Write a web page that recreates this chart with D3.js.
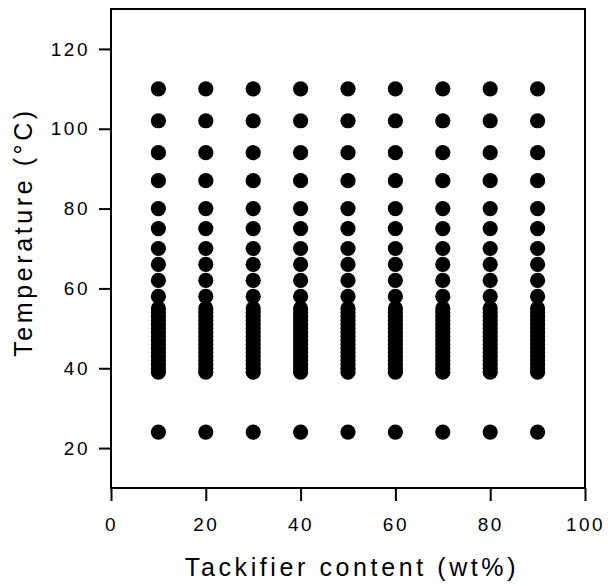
<!DOCTYPE html>
<html lang="en">
<head>
  <meta charset="UTF-8" />
  <title>Tackifier content vs Temperature</title>
  <style>
    body {
      margin: 0;
      background: #fff;
    }
    svg {
      display: block;
      background: #fff;
      font-family: "Liberation Sans", Arial, Helvetica, sans-serif;
    }
    .tick text {
      font-size: 19px;
      letter-spacing: 2.5px;
      fill: #000;
    }
    .tick line {
      stroke: #000;
      stroke-width: 2px;
    }
    .axis-title {
      font-size: 25px;
      letter-spacing: 3.6px;
      fill: #000;
    }
    .dot {
      fill: #000;
    }
  </style>
</head>
<body>
  <svg width="608" height="586"></svg>

  <script src="https://d3js.org/d3.v7.min.js"></script>
  <script>
    // tackifier content columns (wt%)
    const contents = [10, 20, 30, 40, 50, 60, 70, 80, 90];
    // measured temperatures (°C), same for every column
    const temps = [24, 39, 40, 41, 42, 43, 44, 45, 46, 47, 48, 49, 50, 51, 52, 53, 54, 55,
                   58, 62, 66, 70, 75, 80, 87, 94, 102, 110];
    const xTicks = [0, 20, 40, 60, 80, 100];
    const yTicks = [20, 40, 60, 80, 100, 120];

    const svg = d3.select("svg");
    const plotLeft = 111, plotRight = 585, plotTop = 9, plotBottom = 488;

    const x = d3.scaleLinear().domain([0, 100]).range([plotLeft, plotRight]);
    const y = d3.scaleLinear().domain([10, 130]).range([plotBottom, plotTop]);

    const points = [];
    contents.forEach(c => temps.forEach(t => points.push({ c, t })));

    // frame
    svg.append("rect")
      .attr("x", plotLeft)
      .attr("y", plotTop)
      .attr("width", plotRight - plotLeft)
      .attr("height", plotBottom - plotTop)
      .attr("fill", "none")
      .attr("stroke", "#000")
      .attr("stroke-width", 2);

    const xAxis = svg.append("g")
      .attr("transform", `translate(0,${plotBottom})`)
      .call(d3.axisBottom(x).tickValues(xTicks).tickSize(13).tickPadding(17).tickSizeOuter(0));
    xAxis.select(".domain").remove();

    const yAxis = svg.append("g")
      .attr("transform", `translate(${plotLeft},0)`)
      .call(d3.axisLeft(y).tickValues(yTicks).tickSize(12).tickPadding(9).tickSizeOuter(0));
    yAxis.select(".domain").remove();

    svg.selectAll("g").attr("font-family", null).attr("font-size", null);

    svg.selectAll(".dot")
      .data(points)
      .join("circle")
      .attr("class", "dot")
      .attr("cx", d => x(d.c))
      .attr("cy", d => y(d.t))
      .attr("r", 7.6);

    svg.append("text")
      .attr("class", "axis-title")
      .attr("x", 352)
      .attr("y", 576)
      .attr("text-anchor", "middle")
      .text("Tackifier content (wt%)");

    svg.append("text")
      .attr("class", "axis-title")
      .attr("transform", "translate(32,232) rotate(-90)")
      .attr("text-anchor", "middle")
      .text("Temperature (°C)");
  </script>
</body>
</html>
